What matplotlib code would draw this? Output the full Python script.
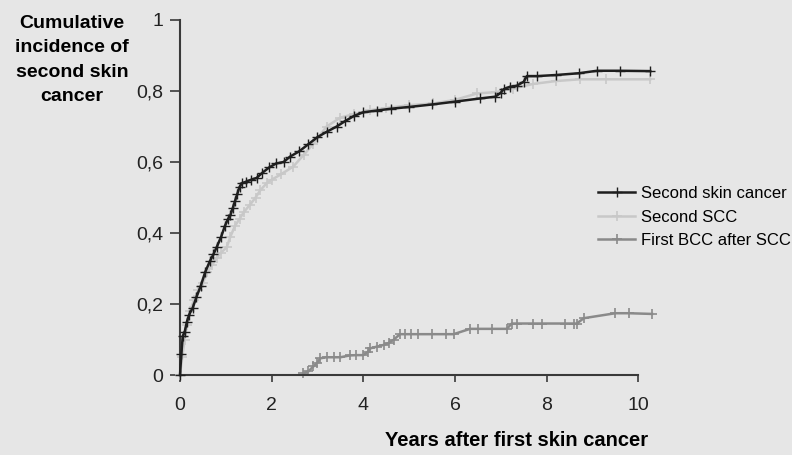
import matplotlib
matplotlib.use("Agg")
import matplotlib.pyplot as plt

# data (years, cumulative incidence)
skin_x = [0, 0.03, 0.06, 0.1, 0.15, 0.2, 0.28, 0.36, 0.45, 0.55, 0.65, 0.73, 0.8, 0.9,
          0.98, 1.05, 1.1, 1.15, 1.2, 1.25, 1.3, 1.35, 1.45, 1.55, 1.67, 1.8, 1.95, 2.1,
          2.26, 2.4, 2.6, 2.8, 3.0, 3.2, 3.42, 3.6, 3.8, 4.0, 4.3, 4.6, 5.0, 5.5, 6.0,
          6.55, 6.88, 7.0, 7.06, 7.2, 7.35, 7.5, 7.57, 7.8, 8.2, 8.7, 9.1, 9.6, 10.26]
skin_y = [0.0, 0.06, 0.11, 0.12, 0.15, 0.17, 0.19, 0.22, 0.25, 0.29, 0.32, 0.34, 0.36, 0.39,
          0.42, 0.44, 0.45, 0.47, 0.49, 0.51, 0.53, 0.54, 0.545, 0.55, 0.555, 0.57, 0.585, 0.596,
          0.60, 0.615, 0.63, 0.65, 0.67, 0.685, 0.70, 0.715, 0.73, 0.74, 0.745, 0.75, 0.755, 0.762, 0.77,
          0.779, 0.784, 0.795, 0.805, 0.812, 0.815, 0.826, 0.842, 0.842, 0.845, 0.85, 0.857, 0.857, 0.856]

scc_x = [0, 0.05, 0.1, 0.15, 0.22, 0.3, 0.4, 0.5, 0.6, 0.7, 0.8, 0.9, 1.02, 1.1, 1.2, 1.3,
         1.4, 1.53, 1.65, 1.75, 1.89, 2.0, 2.2, 2.47, 2.7, 2.9, 3.2, 3.5, 3.8, 4.15, 4.5,
         5.0, 5.53, 6.0, 6.48, 6.9, 7.27, 7.71, 8.2, 8.73, 9.3, 10.26]
scc_y = [0, 0.05, 0.1, 0.14, 0.18, 0.21, 0.24, 0.26, 0.29, 0.31, 0.33, 0.345, 0.36, 0.39, 0.42, 0.44,
         0.46, 0.48, 0.5, 0.52, 0.54, 0.55, 0.565, 0.587, 0.62, 0.65, 0.70, 0.725, 0.735, 0.746, 0.752,
         0.76, 0.765, 0.775, 0.793, 0.797, 0.807, 0.82, 0.828, 0.833, 0.833, 0.833]

bcc_x = [2.69, 2.8, 2.91, 3.0, 3.06, 3.2, 3.35, 3.5, 3.7, 3.85, 4.0, 4.1, 4.15, 4.3, 4.45,
         4.55, 4.66, 4.8, 4.9, 5.05, 5.2, 5.5, 5.8, 5.97, 6.33, 6.5, 6.8, 7.13, 7.24, 7.35,
         7.7, 7.9, 8.4, 8.6, 8.66, 8.81, 9.5, 9.8, 10.3]
bcc_y = [0.005, 0.01, 0.024, 0.035, 0.047, 0.05, 0.05, 0.05, 0.055, 0.056, 0.056, 0.065, 0.075, 0.08, 0.085,
         0.09, 0.099, 0.115, 0.115, 0.115, 0.115, 0.115, 0.115, 0.115, 0.13, 0.13, 0.13, 0.13, 0.145, 0.145,
         0.145, 0.145, 0.145, 0.145, 0.145, 0.16, 0.174, 0.174, 0.172]

x_ticks = [0, 2, 4, 6, 8, 10]
y_ticks = [0, 0.2, 0.4, 0.6, 0.8, 1]
y_ticklabels = ["0", "0,2", "0,4", "0,6", "0,8", "1"]

bg = "#e6e6e6"
plt.rcParams["font.family"] = ["Liberation Sans", "DejaVu Sans"]

fig = plt.figure(figsize=(7.92, 4.55), dpi=100, facecolor=bg)
ax = fig.add_axes([180 / 792, 80 / 455, 472 / 792, 355 / 455], facecolor=bg)

ax.plot(scc_x, scc_y, color="#c8c8c8", lw=1.8, marker="+", ms=7, mew=1.2,
        label="Second SCC", clip_on=False, zorder=2)
ax.plot(bcc_x, bcc_y, color="#8a8a8a", lw=1.8, marker="+", ms=7, mew=1.2,
        label="First BCC after SCC", clip_on=False, zorder=2)
ax.plot(skin_x, skin_y, color="#1e1e1e", lw=1.8, marker="+", ms=7, mew=1.0,
        label="Second skin cancer", clip_on=False, zorder=3)

ax.set_xlim(0, 10.3)
ax.set_ylim(0, 1)
for s in ["top", "right"]:
    ax.spines[s].set_visible(False)
ax.spines["bottom"].set_bounds(0, 10)
for s in ["left", "bottom"]:
    ax.spines[s].set_color("#3a3a3a")
    ax.spines[s].set_linewidth(1.5)

ax.set_xticks(x_ticks)
ax.set_yticks(y_ticks)
ax.set_yticklabels(y_ticklabels)
ax.tick_params(axis="x", length=5, width=1.2, color="#3a3a3a", pad=11, labelsize=14, labelcolor="#222222")
ax.tick_params(axis="y", length=7, width=1.2, color="#3a3a3a", pad=5, labelsize=14, labelcolor="#222222")

fig.text(72 / 792, 1 - 60 / 455, "Cumulative\nincidence of\nsecond skin\ncancer",
         ha="center", va="center", fontsize=14, fontweight="bold", linespacing=1.55)
fig.text(648 / 792, 1 - 440 / 455, "Years after first skin cancer",
         ha="right", va="center", fontsize=14.5, fontweight="bold")

h, l = ax.get_legend_handles_labels()
order = [2, 0, 1]
fig.legend([h[i] for i in order], [l[i] for i in order], loc="upper left",
           bbox_to_anchor=(590 / 792, 1 - 178 / 455), frameon=False, fontsize=12,
           handlelength=2.2, handletextpad=0.35, labelspacing=0.5, borderpad=0)

fig.savefig("out.png", dpi=100, facecolor=bg)
